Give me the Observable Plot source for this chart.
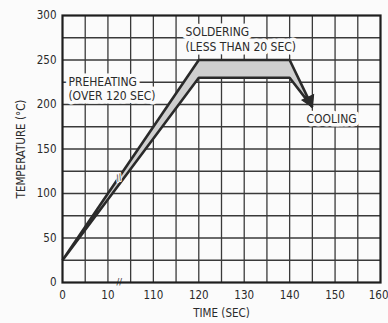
<!DOCTYPE html>
<html><head><meta charset="utf-8">
<script src="https://cdn.jsdelivr.net/npm/d3@7"></script>
<script src="https://cdn.jsdelivr.net/npm/@observablehq/plot@0.6"></script>
<style>
html,body{margin:0;padding:0;background:#fbfbfb;}
#chart svg{display:block;}
</style>
</head><body><div id="chart"></div>
<script>
// Axis positions (broken time axis: 0, 10, // , 110 ... 160)
const tickPositions = [0, 10, 20, 30, 40, 50, 60, 70];
const tickLabels = ["0", "10", "110", "120", "130", "140", "150", "160"];
const yTicks = [0, 50, 100, 150, 200, 250, 300];
const xGrid = [5, 10, 15, 20, 25, 30, 35, 40, 45, 50, 55, 60, 65];
const yGrid = [25, 50, 75, 100, 125, 150, 175, 200, 225, 250, 275];

// Profile (time in seconds, temperature in °C)
const upperTime = [0, 120, 140, 145];
const upperTemp = [25, 250, 250, 197];
const lowerTime = [0, 120, 140, 145];
const lowerTemp = [25, 230, 230, 197];

// map seconds onto the broken axis
const pos = t => t <= 15 ? t : t - 90;

const upper = upperTime.map((t, i) => ({x: pos(t), y: upperTemp[i]}));
const lower = lowerTime.map((t, i) => ({x: pos(t), y: lowerTemp[i]}));
const band = upper.concat(lower.slice().reverse());
const tip = upper[upper.length - 1];

const labels = [
  {x: 27.1, y: 281, text: "SOLDERING"},
  {x: 27.1, y: 264, text: "(LESS THAN 20 SEC)"},
  {x: 1.3, y: 225, text: "PREHEATING"},
  {x: 1.3, y: 209, text: "(OVER 120 SEC)"},
  {x: 53.7, y: 184, text: "COOLING"}
];

const font = "'Liberation Sans Narrow','DejaVu Sans Condensed','Roboto Condensed',sans-serif";
const ink = "#2a2a2a";
const fmt = d => tickLabels[tickPositions.indexOf(d)];
const lastTick = tickPositions[tickPositions.length - 1];

const chart = Plot.plot({
  width: 388, height: 323,
  marginLeft: 62, marginRight: 8, marginTop: 15, marginBottom: 41,
  style: {fontFamily: font, fontSize: "11.5px", color: ink, background: "#fbfbfb"},
  x: {domain: [0, 70]},
  y: {domain: [0, 300]},
  marks: [
    Plot.axisX(tickPositions.slice(0, -1), {tickSize: 0, tickPadding: 8, tickFormat: fmt,
      label: "TIME (SEC)", labelAnchor: "center", labelArrow: "none", labelOffset: 34}),
    Plot.axisX([lastTick], {tickSize: 0, tickPadding: 8, tickFormat: fmt, textAnchor: "end", dx: 8, label: null}),
    Plot.axisY(yTicks, {tickSize: 0, tickPadding: 6,
      label: "TEMPERATURE (°C)", labelAnchor: "center", labelArrow: "none", labelOffset: 46}),
    Plot.ruleX(xGrid, {stroke: "#3a3a3a", strokeWidth: 1.3, strokeOpacity: 1}),
    Plot.ruleY(yGrid, {stroke: "#3a3a3a", strokeWidth: 1.3, strokeOpacity: 1}),
    Plot.text(labels, {x: "x", y: "y", text: "text", textAnchor: "start", fill: ink, stroke: "#fbfbfb", strokeWidth: 7, fontSize: 12}),
    Plot.line(band, {x: "x", y: "y", fill: "#cfcfcf", stroke: ink, strokeWidth: 2.6, curve: "linear-closed", strokeLinejoin: "miter"}),
    Plot.dot([tip], {x: "x", y: "y", symbol: "triangle", r: 4.8, fill: ink, stroke: ink, strokeWidth: 1, rotate: 155, dx: -3, dy: -6.5}),
    Plot.text([{x: 12.4, y: 118}], {x: "x", y: "y", text: () => "//", fill: ink, stroke: "#fbfbfb", strokeWidth: 2, fontSize: 9, rotate: -20}),
    Plot.text([{x: 12.5, y: 0}], {x: "x", y: "y", text: () => "//", fill: ink, stroke: "#fbfbfb", strokeWidth: 3, fontSize: 9}),
    Plot.frame({stroke: "#1e1e1e", strokeWidth: 2.2})
  ]
});
document.getElementById("chart").append(chart);
</script>
</body></html>
